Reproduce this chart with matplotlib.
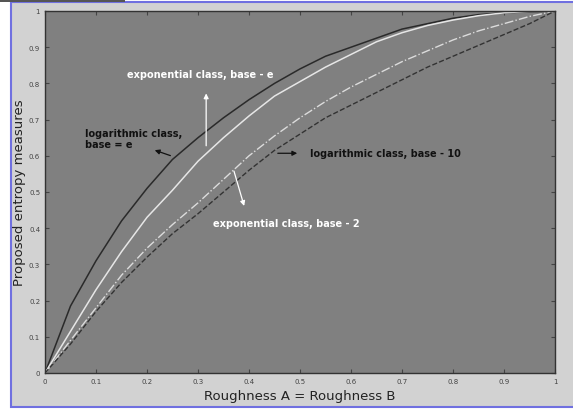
import matplotlib.pyplot as plt
from matplotlib.patches import Rectangle

# roughness values (x axis)
x = [0, 0.05, 0.1, 0.15, 0.2, 0.25, 0.3, 0.35, 0.4, 0.45, 0.5,
     0.55, 0.6, 0.65, 0.7, 0.75, 0.8, 0.85, 0.9, 0.95, 1.0]

# values
log_e = [0, 0.185, 0.31, 0.42, 0.51, 0.59, 0.65, 0.705, 0.755, 0.80, 0.84,
         0.875, 0.90, 0.925, 0.95, 0.965, 0.98, 0.99, 0.995, 0.998, 1.0]
exp_e = [0, 0.115, 0.23, 0.335, 0.43, 0.505, 0.585, 0.65, 0.71, 0.765, 0.805,
         0.845, 0.88, 0.915, 0.94, 0.96, 0.975, 0.987, 0.995, 0.999, 1.0]
exp_2 = [0, 0.09, 0.18, 0.27, 0.345, 0.41, 0.47, 0.535, 0.60, 0.655, 0.705,
         0.75, 0.79, 0.825, 0.86, 0.89, 0.92, 0.945, 0.965, 0.985, 1.0]
log_10 = [0, 0.08, 0.17, 0.25, 0.32, 0.385, 0.44, 0.50, 0.56, 0.615, 0.66,
          0.705, 0.74, 0.775, 0.81, 0.845, 0.875, 0.905, 0.935, 0.965, 1.0]

ticks = [0, 0.1, 0.2, 0.3, 0.4, 0.5, 0.6, 0.7, 0.8, 0.9, 1]
tick_labels = ['0', '0.1', '0.2', '0.3', '0.4', '0.5', '0.6', '0.7', '0.8', '0.9', '1']

fig = plt.figure(figsize=(5.73, 4.10), dpi=100, facecolor='white')
# window frame
fig.patches.append(Rectangle((11 / 573, 2 / 410), 1.0, 405 / 410, transform=fig.transFigure,
                             facecolor='#d2d2d2', edgecolor='#7070e0', linewidth=1.5, zorder=-10))
fig.patches.append(Rectangle((0, 407 / 410), 125 / 573, 3 / 410, transform=fig.transFigure,
                             facecolor='#555555', edgecolor='none', zorder=-9))

ax = fig.add_axes([45 / 573, 36 / 410, 510 / 573, 362 / 410])
ax.set_facecolor('#808080')

ax.plot(x, log_e, color='#2a2a2a', linewidth=1.1, linestyle='-')
ax.plot(x, exp_e, color='#e6e6e6', linewidth=1.1, linestyle='-')
ax.plot(x, exp_2, color='#dcdcdc', linewidth=1.0, linestyle='-.')
ax.plot(x, log_10, color='#333333', linewidth=1.0, linestyle='--')

ax.set_xlim(0, 1)
ax.set_ylim(0, 1)
ax.set_xticks(ticks)
ax.set_yticks(ticks)
ax.set_xticklabels(tick_labels)
ax.set_yticklabels(tick_labels)
ax.tick_params(direction='in', length=3, labelsize=5, colors='#444444',
               top=True, right=True)
for s in ax.spines.values():
    s.set_color('#333333')
    s.set_linewidth(1.0)

ax.set_xlabel('Roughness A = Roughness B', fontsize=9.5, color='#222222', labelpad=4)
ax.set_ylabel('Proposed entropy measures', fontsize=9.5, color='#222222', labelpad=2)

# annotations
ax.text(0.161, 0.825, 'exponential class, base - e', color='white', fontsize=7,
        fontweight='bold', va='center')
ax.annotate('', xy=(0.316, 0.78), xytext=(0.316, 0.62),
            arrowprops=dict(arrowstyle='-|>', color='white', lw=0.9, mutation_scale=7))

ax.text(0.078, 0.648, 'logarithmic class,\nbase = e', color='#111111', fontsize=7,
        fontweight='bold', va='center', linespacing=1.1)
ax.annotate('', xy=(0.21, 0.618), xytext=(0.251, 0.598),
            arrowprops=dict(arrowstyle='-|>', color='#111111', lw=0.9, mutation_scale=7))

ax.text(0.52, 0.607, 'logarithmic class, base - 10', color='#111111', fontsize=7,
        fontweight='bold', va='center')
ax.annotate('', xy=(0.50, 0.607), xytext=(0.451, 0.607),
            arrowprops=dict(arrowstyle='-|>', color='#111111', lw=0.9, mutation_scale=7))

ax.text(0.33, 0.413, 'exponential class, base - 2', color='white', fontsize=7,
        fontweight='bold', va='center')
ax.annotate('', xy=(0.392, 0.454), xytext=(0.369, 0.565),
            arrowprops=dict(arrowstyle='-|>', color='white', lw=0.9, mutation_scale=7))

fig.savefig('out.png', dpi=100, facecolor=fig.get_facecolor())
